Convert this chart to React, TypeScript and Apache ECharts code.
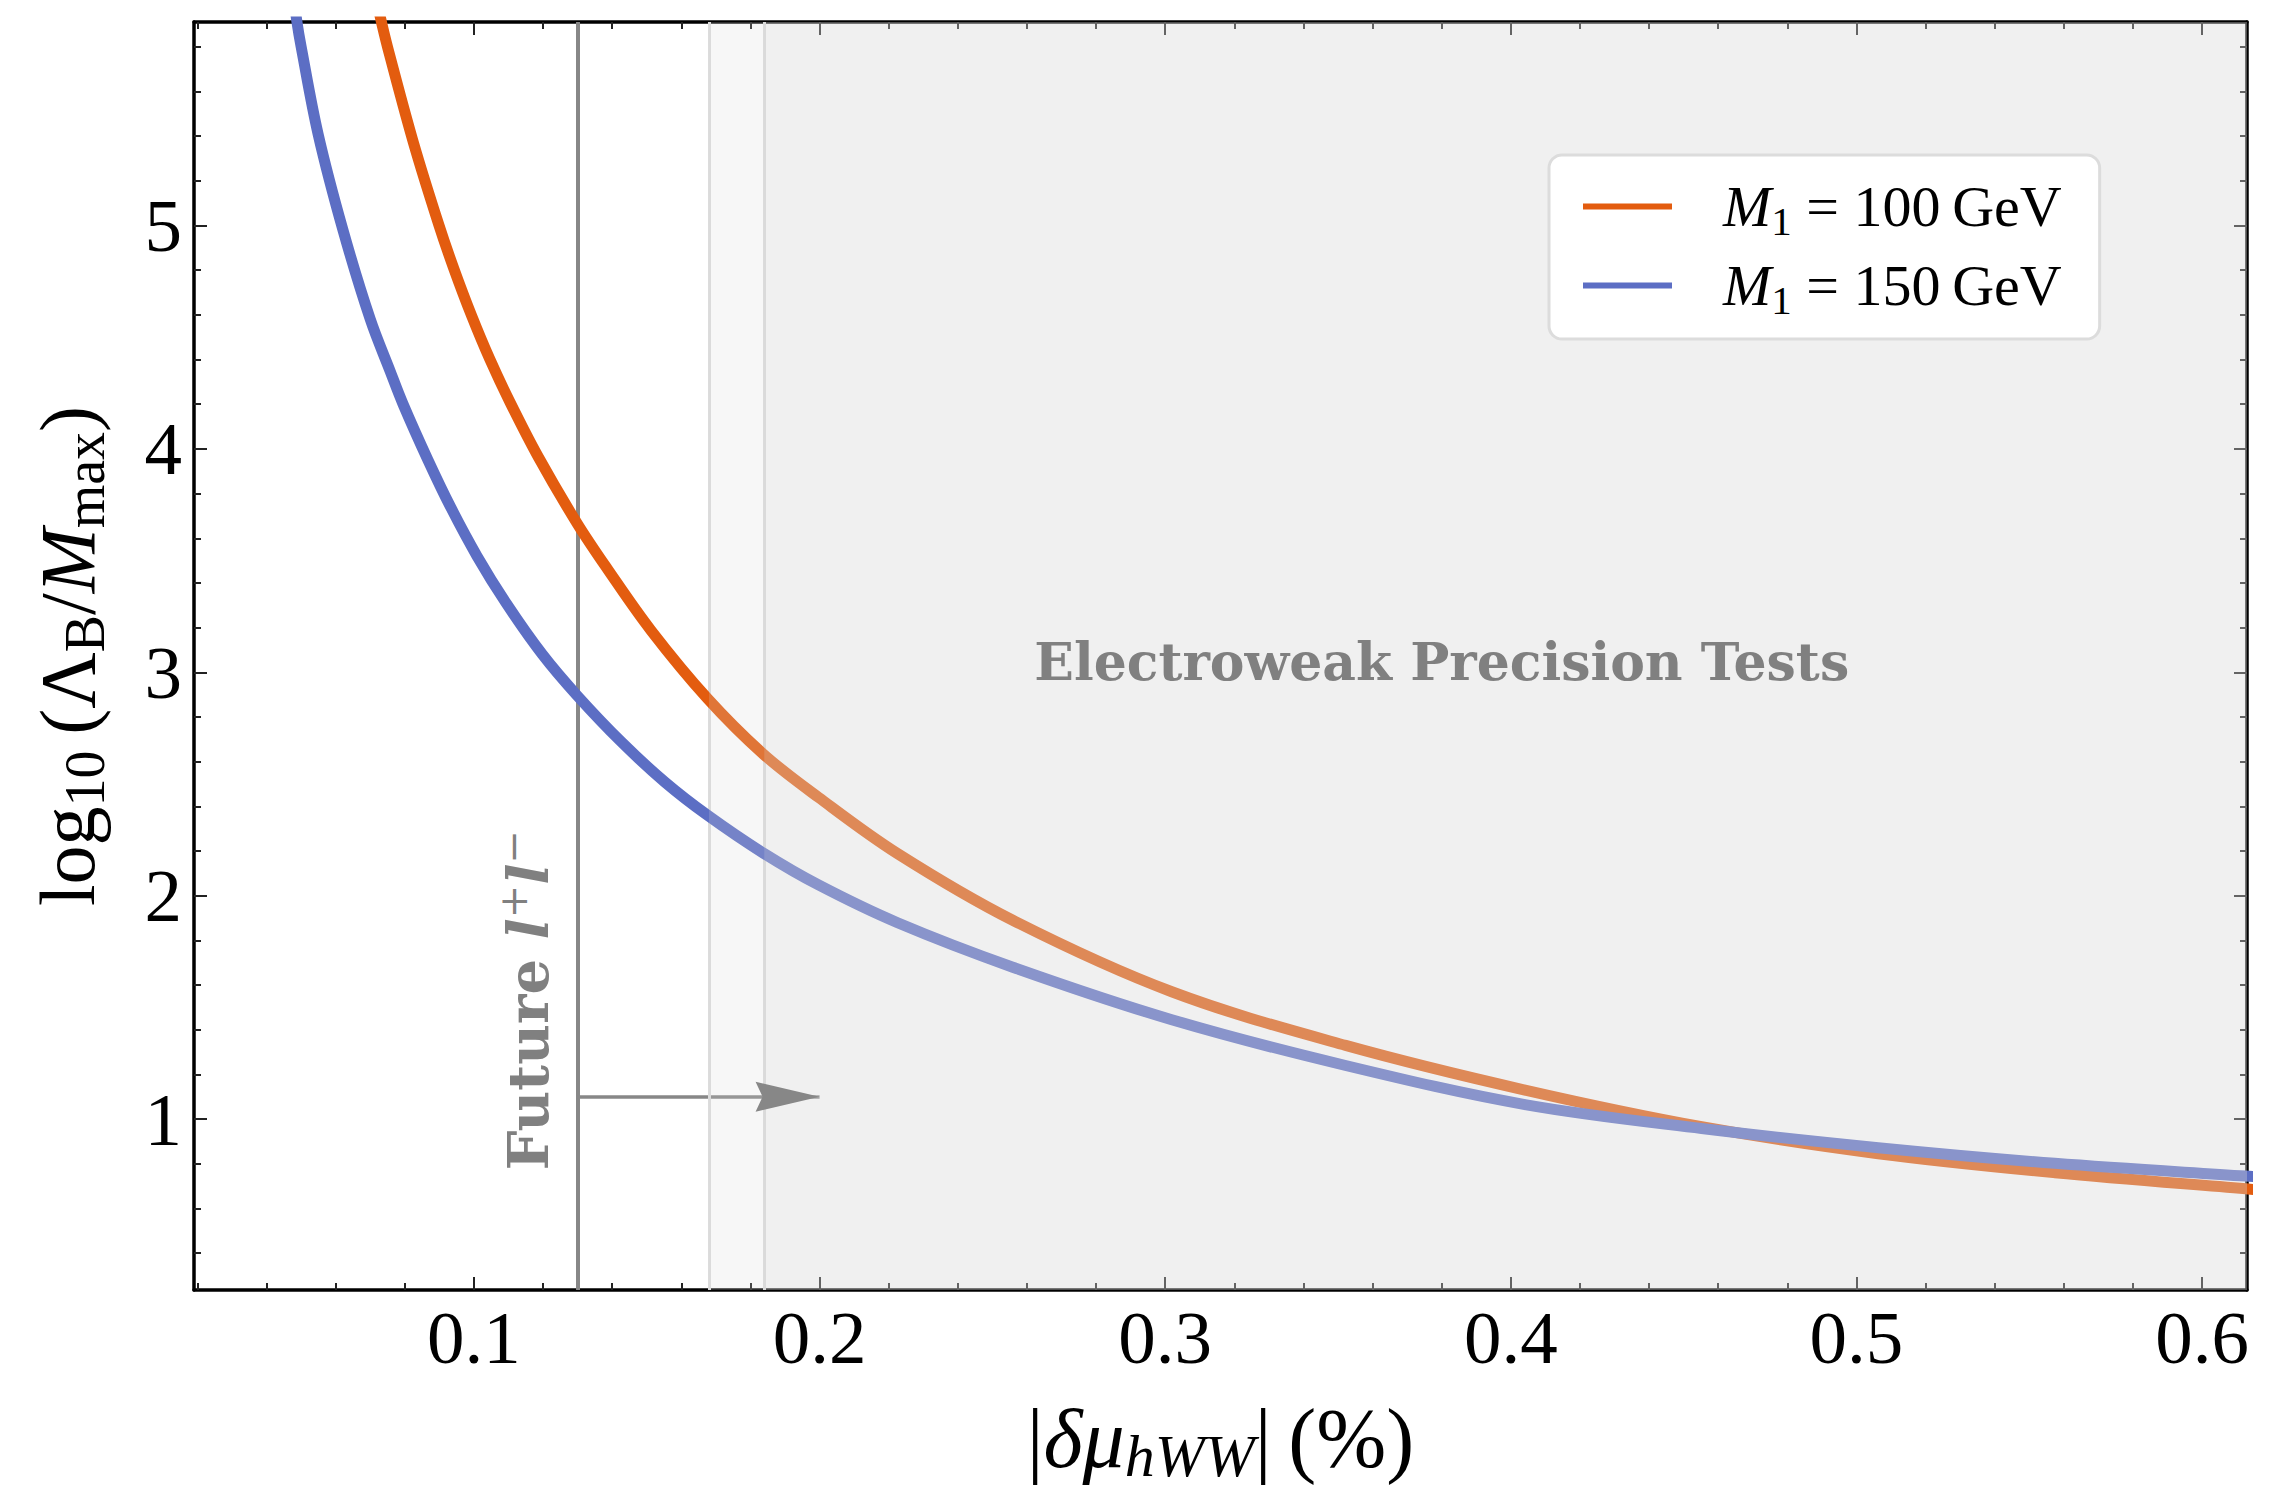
import React, { useEffect, useRef } from 'react';
import * as echarts from 'echarts';

// ---------- axis ranges & ticks ----------
const xRange = [0.019, 0.613];
const yRange = [0.235, 5.911];
const xMajorTicks = [0.1, 0.2, 0.3, 0.4, 0.5, 0.6];
const xMinorTicks = [0.02, 0.04, 0.06, 0.08, 0.12, 0.14, 0.16, 0.18, 0.22, 0.24, 0.26, 0.28, 0.32, 0.34, 0.36, 0.38, 0.42, 0.44, 0.46, 0.48, 0.52, 0.54, 0.56, 0.58];
const yMajorTicks = [1, 2, 3, 4, 5];
const yMinorTicks = [0.4, 0.6, 0.8, 1.2, 1.4, 1.6, 1.8, 2.2, 2.4, 2.6, 2.8, 3.2, 3.4, 3.6, 3.8, 4.2, 4.4, 4.6, 4.8, 5.2, 5.4, 5.6, 5.8];

// ---------- series: M1 = 100 GeV ----------
const xM100 = [0.070, 0.0734, 0.0754, 0.0826, 0.0899, 0.0942, 0.0993, 0.1046, 0.1104, 0.1185, 0.1298, 0.1386, 0.1512, 0.1675, 0.1838, 0.1997, 0.2224, 0.2559, 0.3019, 0.3522, 0.4041, 0.4552, 0.5063, 0.5574, 0.6126, 0.620];
const yM100 = [6.13, 5.90, 5.775, 5.365, 5.00, 4.806, 4.597, 4.401, 4.21, 3.967, 3.668, 3.463, 3.188, 2.884, 2.633, 2.44, 2.19, 1.89, 1.57, 1.33, 1.13, 0.966, 0.845, 0.760, 0.688, 0.679];

// ---------- series: M1 = 150 GeV ----------
const xM150 = [0.0470, 0.0488, 0.0500, 0.0549, 0.0621, 0.0700, 0.0757, 0.0795, 0.0867, 0.0934, 0.1009, 0.1093, 0.1198, 0.1298, 0.1428, 0.1553, 0.1675, 0.1838, 0.1997, 0.2224, 0.2559, 0.3019, 0.3522, 0.4041, 0.4552, 0.5063, 0.5574, 0.6126, 0.620];
const yM150 = [6.12, 5.91, 5.80, 5.41, 4.98, 4.58, 4.35, 4.20, 3.95, 3.735, 3.52, 3.31, 3.08, 2.897, 2.686, 2.508, 2.361, 2.19, 2.048, 1.88, 1.68, 1.445, 1.24, 1.065, 0.958, 0.872, 0.802, 0.745, 0.738];

const seriesNames = ['M1 = 100 GeV', 'M1 = 150 GeV'];
const seriesColors = ['#e35c0f', '#5c6ec4'];

// ---------- annotations ----------
const futureBound = 0.13;
const ewptEdges = [0.168, 0.184];
const arrowFrom = [0.13, 1.1];
const arrowTo = [0.2, 1.1];
const ewptLabelPos = [0.38, 3.048];
const futureLabelPos = [0.1155, 1.533];

const FONT = "'Liberation Serif', 'Times New Roman', serif";
const BFONT = "'DejaVu Serif', serif";
const GRAY = '#878787';

const GRID = { left: 194, top: 22, width: 2053, height: 1268 };

export default function App() {
  const ref = useRef<HTMLDivElement>(null);

  useEffect(() => {
    if (!ref.current) return;
    const chart = echarts.init(ref.current, null, { renderer: 'svg' });

    const tick = (vals: number[], len: number) => ({
      show: true, inside: true, length: len, customValues: vals,
      lineStyle: { color: '#222', width: 2 },
    });
    const lineOn = { show: true, onZero: false, lineStyle: { color: '#000', width: 3.5 } };
    const lineOff = { show: false, onZero: false };

    const xBase = (grid: number, pos: string) => ({
      gridIndex: grid, type: 'value', position: pos, min: xRange[0], max: xRange[1],
      splitLine: { show: false }, nameMoveOverlap: false,
    });
    const yBase = (grid: number, pos: string) => ({
      gridIndex: grid, type: 'value', position: pos, min: yRange[0], max: yRange[1],
      splitLine: { show: false }, nameMoveOverlap: false,
    });

    const titleRich = (fs: number, sfs: number, pad: number, lh: number) => ({
      r: { fontSize: fs, fontFamily: FONT, color: '#000', lineHeight: lh },
      i: { fontSize: fs, fontFamily: FONT, fontStyle: 'italic', color: '#000', lineHeight: lh },
      s: { fontSize: sfs, fontFamily: FONT, color: '#000', lineHeight: lh, padding: [pad, 0, 0, 0] },
      si: { fontSize: sfs, fontFamily: FONT, fontStyle: 'italic', color: '#000', lineHeight: lh, padding: [pad, 0, 0, 0] },
    });

    const vline = (x: number, color: string, width: number) => [
      { coord: [x, yRange[0]], lineStyle: { color, width, type: 'solid' } },
      { coord: [x, yRange[1]] },
    ];

    const option: any = {
      animation: false,
      backgroundColor: '#ffffff',
      grid: [
        { ...GRID, containLabel: false, outerBoundsMode: 'none' },
        { ...GRID, containLabel: false, outerBoundsMode: 'none' },
      ],
      xAxis: [
        {
          ...xBase(0, 'bottom'),
          axisLine: lineOn,
          axisTick: tick(xMajorTicks, 13),
          axisLabel: { show: true, customValues: xMajorTicks, margin: 10, fontSize: 75, fontFamily: FONT, color: '#000' },
          name: '{r||}{i|δμ}{si|hWW}{r||\u2009(%)}',
          nameLocation: 'middle',
          nameGap: 104,
          nameTextStyle: { fontSize: 84, fontFamily: FONT, color: '#000', rich: titleRich(84, 60, 36, 88) },
        },
        { ...xBase(0, 'top'), axisLine: lineOn, axisTick: tick(xMajorTicks, 13), axisLabel: { show: false } },
        { ...xBase(1, 'bottom'), axisLine: lineOff, axisTick: tick(xMinorTicks, 7), axisLabel: { show: false } },
        { ...xBase(1, 'top'), axisLine: lineOff, axisTick: tick(xMinorTicks, 7), axisLabel: { show: false } },
      ],
      yAxis: [
        {
          ...yBase(0, 'left'),
          axisLine: lineOn,
          axisTick: tick(yMajorTicks, 13),
          axisLabel: { show: true, customValues: yMajorTicks, margin: 12, fontSize: 75, fontFamily: FONT, color: '#000' },
          name: '{r|log}{s|10}{r|\u2009(Λ}{s|B}{r|/}{i|M}{s|max}{r|)}',
          nameLocation: 'middle',
          nameRotate: 90,
          nameGap: 79,
          nameTextStyle: { fontSize: 78, fontFamily: FONT, color: '#000', rich: titleRich(78, 56, 36, 96) },
        },
        { ...yBase(0, 'right'), axisLine: lineOn, axisTick: tick(yMajorTicks, 13), axisLabel: { show: false } },
        { ...yBase(1, 'left'), axisLine: lineOff, axisTick: tick(yMinorTicks, 7), axisLabel: { show: false } },
        { ...yBase(1, 'right'), axisLine: lineOff, axisTick: tick(yMinorTicks, 7), axisLabel: { show: false } },
      ],
      legend: {
        show: true,
        z: 20,
        data: seriesNames,
        orient: 'vertical',
        left: 1549,
        top: 155,
        padding: [17, 38, 19, 34],
        itemGap: 10,
        itemWidth: 89,
        itemHeight: 6,
        icon: 'rect',
        selectedMode: false,
        backgroundColor: '#ffffff',
        borderColor: '#dcdcdc',
        borderWidth: 3,
        borderRadius: 13,
        formatter: (name: string) => {
          const v = name === seriesNames[0] ? '100' : '150';
          return `{m|M}{s|1}{n| = ${v}\u2009GeV}`;
        },
        textStyle: {
          fontSize: 58, fontFamily: FONT, color: '#000',
          rich: {
            m: { fontSize: 58, fontFamily: FONT, fontStyle: 'italic', color: '#000', lineHeight: 72, padding: [0, 0, 0, 46] },
            s: { fontSize: 41, fontFamily: FONT, color: '#000', lineHeight: 72, padding: [28, 0, 0, 0] },
            n: { fontSize: 58, fontFamily: FONT, color: '#000', lineHeight: 72 },
          },
        },
      },
      series: [
        {
          name: 'future-bound',
          type: 'line',
          xAxisIndex: 0, yAxisIndex: 0,
          data: [],
          z: 1,
          color: GRAY,
          markLine: {
            silent: true,
            z: 1,
            animation: false,
            symbol: ['none', 'none'],
            label: { show: false },
            data: [
              vline(futureBound, GRAY, 4),
              [
                { coord: arrowFrom, lineStyle: { color: GRAY, width: 3.5, type: 'solid' } },
                { coord: arrowTo },
              ],
            ],
          },
        },
        {
          name: seriesNames[0],
          type: 'line',
          xAxisIndex: 0, yAxisIndex: 0,
          data: xM100.map((x, i) => [x, yM100[i]]),
          color: seriesColors[0],
          showSymbol: false,
          symbol: 'none',
          smooth: 0.35,
          clip: true,
          z: 2,
          lineStyle: { width: 11, color: seriesColors[0], join: 'round' },
        },
        {
          name: seriesNames[1],
          type: 'line',
          xAxisIndex: 0, yAxisIndex: 0,
          data: xM150.map((x, i) => [x, yM150[i]]),
          color: seriesColors[1],
          showSymbol: false,
          symbol: 'none',
          smooth: 0.35,
          clip: true,
          z: 2,
          lineStyle: { width: 11, color: seriesColors[1], join: 'round' },
        },
        {
          name: 'ewpt',
          type: 'line',
          xAxisIndex: 0, yAxisIndex: 0,
          data: [],
          z: 3,
          color: '#d9d9d9',
          markArea: {
            silent: true,
            z: 4,
            animation: false,
            itemStyle: { color: 'rgba(217,217,217,0.205)', borderWidth: 0 },
            label: { show: false },
            data: ewptEdges.map((e) => [
              { coord: [e, yRange[0]] },
              { coord: [xRange[1], yRange[1]] },
            ]),
          },
          markLine: {
            silent: true,
            z: 1,
            animation: false,
            symbol: ['none', 'none'],
            label: { show: false },
            data: ewptEdges.map((e) => vline(e, '#dcdcdc', 3)),
          },
        },
      ],
    };

    chart.setOption(option);

    const px = (p: number[]) => chart.convertToPixel({ gridIndex: 0 } as any, p) as number[];
    const ew = px(ewptLabelPos);
    const fu = px(futureLabelPos);
    const tip = px(arrowTo);

    chart.setOption({
      graphic: [
        {
          type: 'polygon',
          z: 20,
          shape: {
            points: [
              [tip[0], tip[1]],
              [tip[0] - 64, tip[1] - 15],
              [tip[0] - 57, tip[1]],
              [tip[0] - 64, tip[1] + 15],
            ],
          },
          style: { fill: GRAY },
        },
        {
          type: 'text',
          x: ew[0], y: ew[1], z: 20,
          style: {
            text: 'Electroweak Precision Tests',
            fill: '#808080',
            fontSize: 52, fontFamily: BFONT, fontWeight: 'bold',
            align: 'center', verticalAlign: 'middle',
          },
        },
        {
          type: 'text',
          x: fu[0], y: fu[1], z: 20,
          rotation: Math.PI / 2,
          style: {
            text: '{b|Future }{l|l}{p|+}{l|l}{p|−}',
            fill: '#808080',
            fontSize: 56, fontFamily: BFONT,
            align: 'center', verticalAlign: 'middle',
            rich: {
              b: { fontSize: 56, fontFamily: BFONT, fontWeight: 'bold', fill: '#808080', lineHeight: 80 },
              l: { fontSize: 56, fontFamily: BFONT, fontWeight: 'bold', fontStyle: 'italic', fill: '#808080', lineHeight: 80 },
              p: { fontSize: 40, fontFamily: BFONT, fill: '#808080', lineHeight: 80, padding: [0, 0, 29, 0] },
            },
          },
        },
      ],
    });

    return () => chart.dispose();
  }, []);

  return (
    <div
      ref={ref}
      style={{ position: 'absolute', left: 0, top: 0, width: 2269, height: 1495, background: '#ffffff' }}
    />
  );
}
